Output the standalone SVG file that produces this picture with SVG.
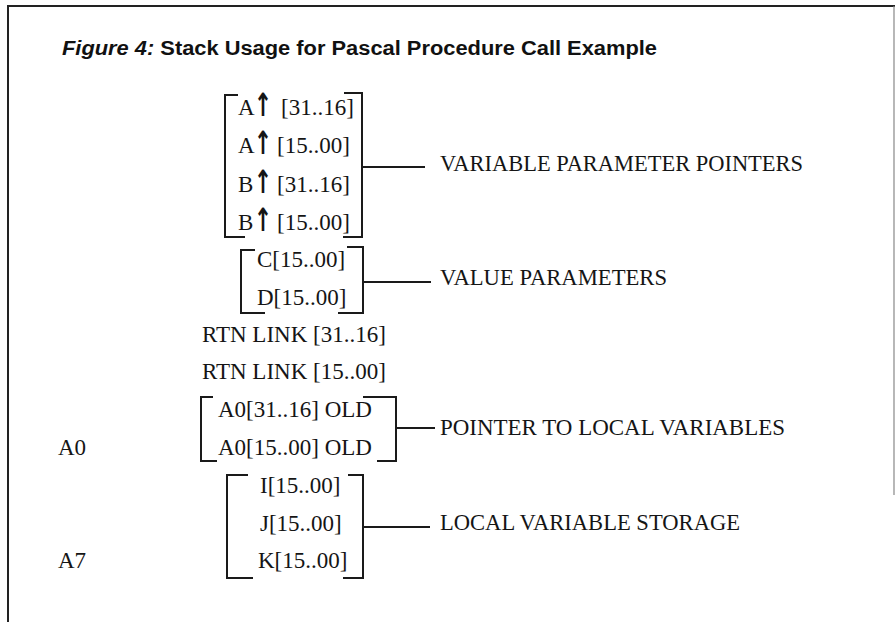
<svg xmlns="http://www.w3.org/2000/svg" width="895" height="622" viewBox="0 0 895 622">
<style>
.t{font-family:"Liberation Serif","Times New Roman",serif;font-size:23px;fill:#151515}
.arr{font-family:"DejaVu Sans","Liberation Sans",sans-serif;font-size:32px;font-weight:bold;fill:#151515;text-anchor:middle}
.title{font-family:"Liberation Sans",Arial,sans-serif;font-size:20px;font-weight:bold;fill:#111}
.br{fill:none;stroke:#1a1a1a;stroke-width:2}
.con{fill:none;stroke:#1a1a1a;stroke-width:1.8}
.frame{fill:none;stroke:#222;stroke-width:2}
</style>
<rect x="0" y="0" width="895" height="622" fill="#fff"/>
<g id="frame">
<path class="frame" d="M8,622 V6 H895"/>
<path d="M894,6 V495" stroke="#888" stroke-width="1.2" fill="none"/>
</g>
<g id="title">
<text class="title" x="62" y="55" textLength="595" lengthAdjust="spacingAndGlyphs"><tspan font-style="italic">Figure 4:</tspan> Stack Usage for Pascal Procedure Call Example</text>
</g>
<g id="variable-parameter-pointers">
<path class="br" d="M238,95 H225 V237 H245"/>
<path class="br" d="M344,93 H362 V237 H343"/>
<text class="t" x="238" y="115">A</text><text class="arr" transform="translate(263,116) scale(0.68,1)">↑</text><text class="t" x="281" y="115">[31..16]</text>
<text class="t" x="238" y="153">A</text><text class="arr" transform="translate(263,154) scale(0.68,1)">↑</text><text class="t" x="277" y="153">[15..00]</text>
<text class="t" x="238" y="192">B</text><text class="arr" transform="translate(263,193) scale(0.68,1)">↑</text><text class="t" x="277" y="192">[31..16]</text>
<text class="t" x="238" y="230">B</text><text class="arr" transform="translate(263,231) scale(0.68,1)">↑</text><text class="t" x="277" y="230">[15..00]</text>
<text class="t" x="440" y="171" textLength="363" lengthAdjust="spacingAndGlyphs">VARIABLE PARAMETER POINTERS</text>
</g>
<g id="value-parameters">
<path class="br" d="M255,250 H241 V313 H265"/>
<path class="br" d="M347,247 H363 V313 H338"/>
<text class="t" x="257" y="267">C[15..00]</text>
<text class="t" x="257" y="305">D[15..00]</text>
<text class="t" x="440" y="285" textLength="227" lengthAdjust="spacingAndGlyphs">VALUE PARAMETERS</text>
</g>
<g id="return-link">
<text class="t" x="202" y="342">RTN LINK [31..16]</text>
<text class="t" x="202" y="379">RTN LINK [15..00]</text>
</g>
<g id="old-a0">
<path class="br" d="M213,397 H201 V461 H217"/>
<path class="br" d="M363,397 H396 V461 H377"/>
<text class="t" x="218" y="417">A0[31..16] OLD</text>
<text class="t" x="218" y="455">A0[15..00] OLD</text>
<text class="t" x="58" y="455">A0</text>
<text class="t" x="440" y="435" textLength="345" lengthAdjust="spacingAndGlyphs">POINTER TO LOCAL VARIABLES</text>
</g>
<g id="local-variables">
<path class="br" d="M248,475 H227 V578 H253"/>
<path class="br" d="M348,475 H363 V578 H343"/>
<text class="t" x="260" y="493">I[15..00]</text>
<text class="t" x="260" y="531">J[15..00]</text>
<text class="t" x="258" y="568">K[15..00]</text>
<text class="t" x="58" y="568">A7</text>
<text class="t" x="440" y="530" textLength="300" lengthAdjust="spacingAndGlyphs">LOCAL VARIABLE STORAGE</text>
</g>
<g id="connectors">
<path class="con" d="M362,167 H425"/>
<path class="con" d="M363,282 H431"/>
<path class="con" d="M396,428 H435"/>
<path class="con" d="M363,527 H430"/>
</g>
</svg>
